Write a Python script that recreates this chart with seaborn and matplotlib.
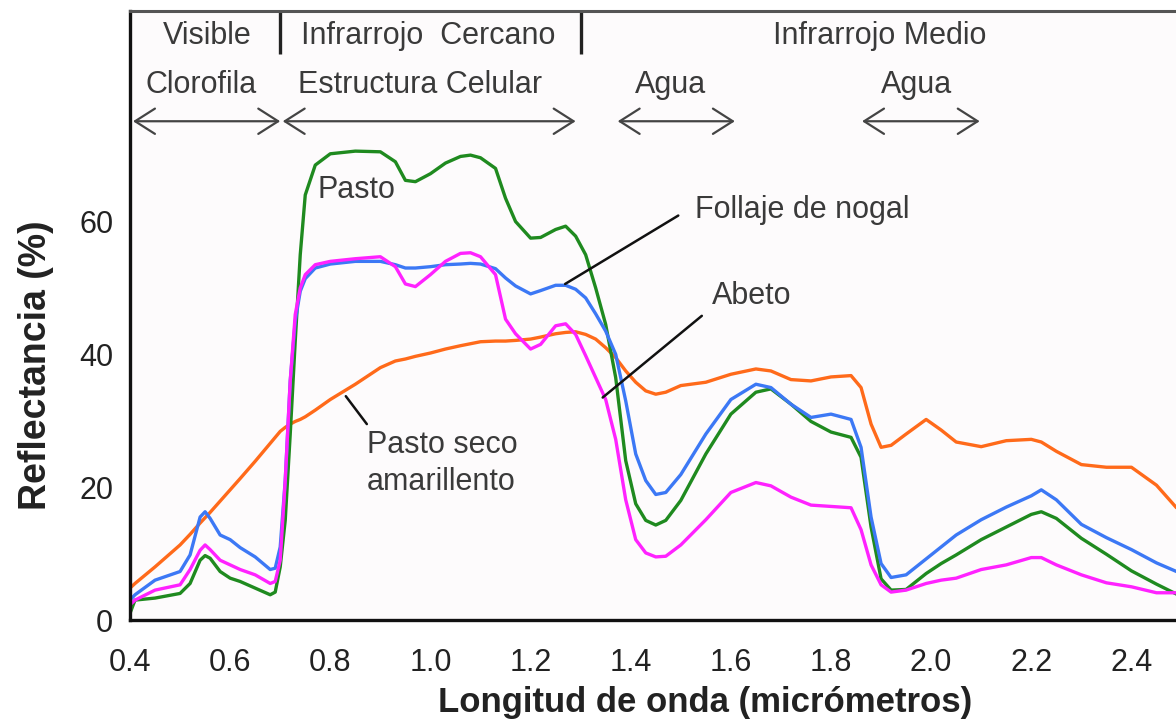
import matplotlib
matplotlib.use("Agg")
import matplotlib.pyplot as plt
import numpy as np
import pandas as pd
import seaborn as sns

# Wavelength grid (micrometres) shared by all spectra
wavelength = [0.40, 0.41, 0.45, 0.50, 0.52, 0.54, 0.55, 0.56, 0.58, 0.60,
              0.62, 0.65, 0.68, 0.69, 0.70, 0.71, 0.72, 0.73, 0.74, 0.75,
              0.77, 0.80, 0.85, 0.90, 0.93, 0.95, 0.97, 1.00, 1.03, 1.06,
              1.08, 1.10, 1.13, 1.15, 1.17, 1.20, 1.22, 1.25, 1.27, 1.29,
              1.31, 1.33, 1.35, 1.37, 1.39, 1.41, 1.43, 1.45, 1.47, 1.50,
              1.55, 1.60, 1.65, 1.68, 1.72, 1.76, 1.80, 1.84, 1.86, 1.88,
              1.90, 1.92, 1.95, 1.99, 2.02, 2.05, 2.10, 2.15, 2.20, 2.22,
              2.25, 2.30, 2.35, 2.40, 2.45, 2.49]

# Reflectance (%) of each cover type
pasto = [1.0, 3.0, 3.3, 4.0, 5.5, 9.0, 9.7, 9.3, 7.3, 6.3,
         5.8, 4.8, 3.8, 4.2, 8.0, 15.0, 28.0, 42.0, 55.0, 64.0,
         68.5, 70.2, 70.6, 70.5, 69.0, 66.2, 66.0, 67.2, 68.8, 69.8,
         70.0, 69.6, 68.0, 63.5, 60.0, 57.5, 57.6, 58.8, 59.3, 57.8,
         55.0, 50.0, 44.5, 36.5, 24.0, 17.5, 15.0, 14.3, 15.0, 18.0,
         25.0, 31.0, 34.3, 34.8, 32.5, 29.9, 28.3, 27.5, 24.5, 14.0,
         6.2, 4.5, 4.6, 7.0, 8.5, 9.8, 12.1, 14.0, 15.9, 16.3,
         15.3, 12.3, 9.9, 7.4, 5.4, 3.9]

follaje_nogal = [3.0, 3.8, 6.0, 7.3, 9.8, 15.5, 16.3, 15.3, 12.8, 12.1,
                 10.9, 9.5, 7.6, 7.8, 11.0, 21.0, 36.0, 45.0, 49.5, 51.4,
                 53.0, 53.6, 54.0, 54.0, 53.5, 53.0, 53.0, 53.2, 53.5, 53.6,
                 53.7, 53.6, 52.9, 51.5, 50.3, 49.1, 49.6, 50.4, 50.4, 49.8,
                 48.5, 46.1, 43.5, 40.0, 33.0, 25.0, 21.0, 18.9, 19.2, 21.9,
                 28.0, 33.2, 35.5, 35.0, 32.5, 30.5, 31.0, 30.2, 26.0, 15.5,
                 8.5, 6.4, 6.8, 9.2, 11.0, 12.8, 15.1, 17.0, 18.7, 19.6,
                 18.1, 14.4, 12.4, 10.6, 8.6, 7.3]

abeto = [2.3, 3.0, 4.5, 5.3, 7.6, 10.5, 11.3, 10.6, 9.0, 8.3,
         7.6, 6.8, 5.5, 5.8, 9.0, 21.0, 36.0, 46.0, 50.0, 52.0,
         53.5, 54.0, 54.4, 54.7, 53.2, 50.6, 50.2, 52.0, 54.0, 55.2,
         55.3, 54.7, 52.0, 45.3, 43.1, 40.8, 41.5, 44.3, 44.6, 43.0,
         39.8, 36.5, 33.2, 27.2, 18.1, 12.1, 10.1, 9.5, 9.6, 11.3,
         15.1, 19.2, 20.7, 20.2, 18.5, 17.3, 17.1, 16.9, 13.6, 8.3,
         5.3, 4.2, 4.5, 5.5, 6.0, 6.3, 7.6, 8.3, 9.4, 9.4,
         8.3, 6.8, 5.6, 5.0, 4.1, 4.1]

pasto_seco = [4.8, 5.5, 8.0, 11.3, 12.9, 14.6, 15.4, 16.2, 17.9, 19.6,
              21.3, 23.9, 26.6, 27.5, 28.4, 29.0, 29.5, 29.9, 30.2, 30.6,
              31.6, 33.2, 35.5, 38.0, 39.0, 39.3, 39.7, 40.2, 40.8, 41.3,
              41.6, 41.9, 42.0, 42.0, 42.1, 42.3, 42.6, 43.1, 43.3, 43.4,
              43.0, 42.3, 41.0, 39.5, 37.5, 35.8, 34.5, 34.0, 34.3, 35.3,
              35.8, 37.0, 37.8, 37.5, 36.2, 36.0, 36.6, 36.8, 35.0, 29.5,
              26.0, 26.3, 28.0, 30.2, 28.6, 26.8, 26.1, 27.0, 27.2, 26.8,
              25.4, 23.4, 23.0, 23.0, 20.3, 16.9]

series_names = ["Pasto seco amarillento", "Pasto", "Follaje de nogal", "Abeto"]
series_values = [pasto_seco, pasto, follaje_nogal, abeto]
series_colors = ["#ff6a1a", "#1f8a1f", "#3c78f5", "#ff22ff"]

x_ticks = [0.4, 0.6, 0.8, 1.0, 1.2, 1.4, 1.6, 1.8, 2.0, 2.2, 2.4]
y_ticks = [0, 20, 40, 60]

df = pd.concat(
    [pd.DataFrame({"wl": wavelength, "refl": vals, "cubierta": name})
     for name, vals in zip(series_names, series_values)],
    ignore_index=True,
)

sns.set_style("white")
plt.rcParams["font.family"] = ["Liberation Sans", "DejaVu Sans"]

fig = plt.figure(figsize=(11.76, 7.22), dpi=100)
ax = fig.add_axes([130 / 1176, 102 / 722, 1 - 130 / 1176, 609 / 722])
ax.set_facecolor("#fdfbfc")

sns.lineplot(data=df, x="wl", y="refl", hue="cubierta",
             palette=dict(zip(series_names, series_colors)),
             sort=False, estimator=None, legend=False, linewidth=2.4, ax=ax)

ax.set_xlim(0.4, 2.489)
ax.set_ylim(0, 91.7)
ax.set_xticks(x_ticks)
ax.set_xticklabels([f"{t:.1f}" for t in x_ticks])
ax.set_yticks(y_ticks)
ax.tick_params(direction="in", length=7, width=1.6, labelsize=22,
               colors="#222222")
ax.tick_params(axis="x", pad=20)
ax.tick_params(axis="y", pad=12)

for side in ["left", "bottom"]:
    ax.spines[side].set_color("#111111")
    ax.spines[side].set_linewidth(2.4)
ax.spines["top"].set_color("#555555")
ax.spines["top"].set_linewidth(2.2)
ax.spines["right"].set_visible(False)

ax.set_xlabel("Longitud de onda (micrómetros)", fontsize=25,
              fontweight="bold", color="#222222")
ax.set_ylabel("Reflectancia (%)", fontsize=27, fontweight="bold",
              color="#222222")
ax.xaxis.set_label_coords(0.55, -0.108)
ax.yaxis.set_label_coords(-0.073, 0.418)

txt = dict(fontsize=22, color="#3a3a3a")

# Spectral regions along the top band
ax.text(0.554, 88.0, "Visible", ha="center", va="center", **txt)
ax.text(0.995, 88.0, "Infrarrojo  Cercano", ha="center", va="center", **txt)
ax.text(1.897, 88.0, "Infrarrojo Medio", ha="center", va="center", **txt)
ax.vlines([0.70, 1.30], 85.3, 91.7, colors="#222222", linewidth=2.4)

# Dominant absorption factors with their ranges
ax.text(0.542, 80.5, "Clorofila", ha="center", va="center", **txt)
ax.text(0.980, 80.5, "Estructura Celular", ha="center", va="center", **txt)
ax.text(1.480, 80.5, "Agua", ha="center", va="center", **txt)
ax.text(1.970, 80.5, "Agua", ha="center", va="center", **txt)
for x0, x1 in [(0.406, 0.700), (0.705, 1.290), (1.374, 1.608), (1.862, 2.097)]:
    ax.annotate("", xy=(x1, 75.1), xytext=(x0, 75.1),
                arrowprops=dict(arrowstyle="<->,head_length=0.55,head_width=0.35",
                                color="#444444", lw=1.6, mutation_scale=26,
                                shrinkA=0, shrinkB=0))

# Curve labels
ax.text(0.853, 64.7, "Pasto", ha="center", va="center", **txt)
ax.text(1.528, 61.7, "Follaje de nogal", ha="left", va="center", **txt)
ax.plot([1.269, 1.495], [50.6, 60.9], color="#111111", lw=1.8)
ax.text(1.562, 48.8, "Abeto", ha="left", va="center", **txt)
ax.plot([1.344, 1.542], [33.5, 45.8], color="#111111", lw=1.8)
ax.text(0.873, 23.6, "Pasto seco\namarillento", ha="left", va="center",
        linespacing=1.3, **txt)
ax.plot([0.831, 0.873], [33.7, 29.5], color="#111111", lw=1.8)

fig.savefig("out.png", dpi=100)
